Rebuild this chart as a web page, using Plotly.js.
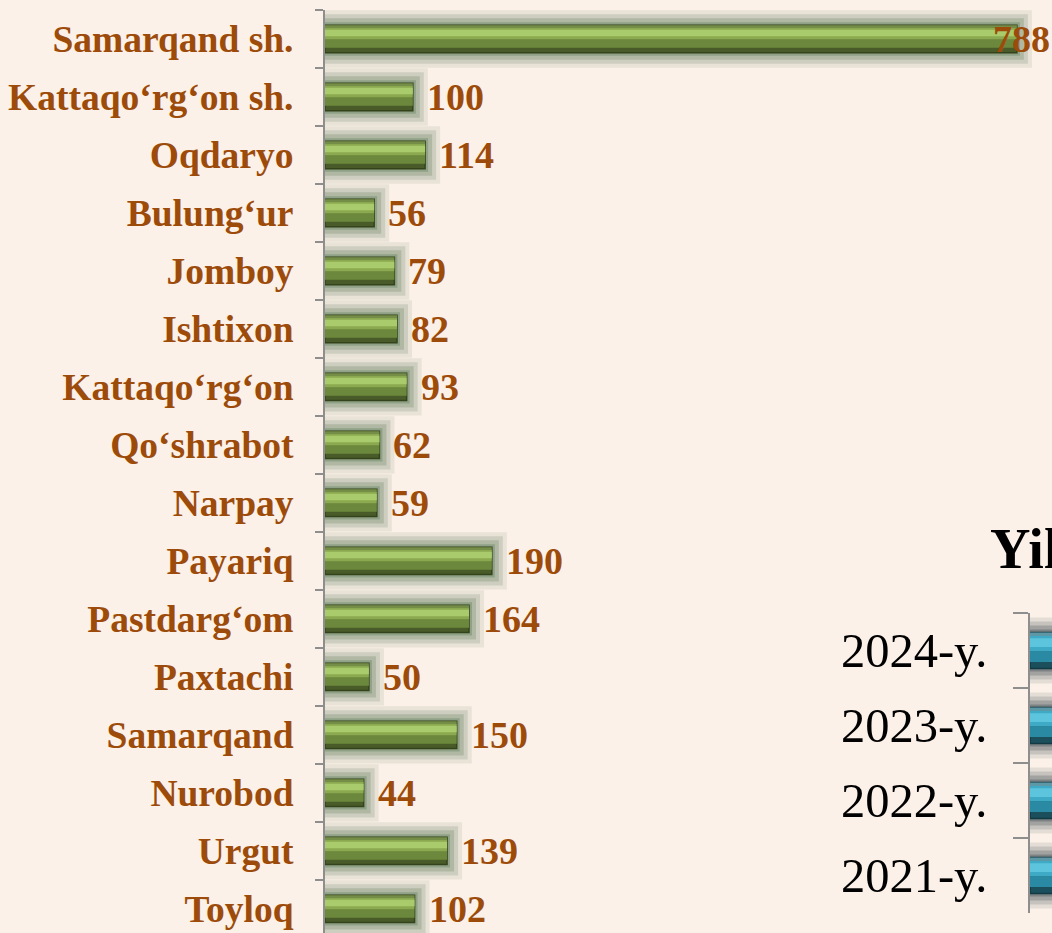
<!DOCTYPE html>
<html>
<head>
<meta charset="utf-8">
<script src="https://cdn.plot.ly/plotly-3.0.1.min.js"></script>
<style>
  html, body { margin: 0; padding: 0; background: #FBF1E8; }
  #chart { width: 1052px; height: 933px; }
</style>
</head>
<body>
<div id="chart"></div>
<script>
// ---- Data ----
const districts = [
  "Samarqand sh.", "Kattaqo‘rg‘on sh.", "Oqdaryo", "Bulung‘ur", "Jomboy",
  "Ishtixon", "Kattaqo‘rg‘on", "Qo‘shrabot", "Narpay", "Payariq",
  "Pastdarg‘om", "Paxtachi", "Samarqand", "Nurobod", "Urgut", "Toyloq"
];
const districtValues = [788, 100, 114, 56, 79, 82, 93, 62, 59, 190, 164, 50, 150, 44, 139, 102];

const years = ["2024-y.", "2023-y.", "2022-y.", "2021-y."];
const yearValues = [2272, 2050, 1850, 1650];
const rightTitle = "Yillar";

// ---- Styling ----
const BG = "#FBF1E8";
const BROWN = "#9D4B0A";
const SERIF = "Liberation Serif, Times New Roman, serif";
const W = 1052, H = 933;
const XMAX_LEFT = 828;

function layers(x, y, xa, ya, w, glowRGB, parts) {
  const t = [];
  const base = {type: "bar", orientation: "h", x: x, y: y, xaxis: xa, yaxis: ya,
                hoverinfo: "skip", showlegend: false, width: w, offset: -w / 2};
  [[30, 0.13], [22, 0.2], [14, 0.3], [6, 0.45]].forEach(function (g) {
    t.push(Object.assign({}, base, {
      marker: {color: "rgba(0,0,0,0)", line: {width: g[0], color: "rgba(" + glowRGB + "," + g[1] + ")"}}
    }));
  });
  parts.forEach(function (p) {
    t.push(Object.assign({}, base, {
      width: w * p.f, offset: -w / 2 + w * p.o,
      marker: {color: p.c, line: {width: p.lw || 0, color: p.lc || p.c}}
    }));
  });
  return t;
}

const greenParts = [
  {f: 1.0, o: 0.0, c: "#4A5B2A", lw: 1.5, lc: "#34431A"},
  {f: 0.12, o: 0.0, c: "#748E48"},
  {f: 0.30, o: 0.52, c: "#6C883D"},
  {f: 0.42, o: 0.1, c: "#8BAA50"},
  {f: 0.24, o: 0.16, c: "#AACB6B"}
];
const blueParts = [
  {f: 1.0, o: 0.0, c: "#1B4F5C", lw: 1.5, lc: "#113A44"},
  {f: 0.12, o: 0.0, c: "#5E98A6"},
  {f: 0.30, o: 0.52, c: "#2B8AA3"},
  {f: 0.42, o: 0.1, c: "#3FAAC5"},
  {f: 0.24, o: 0.16, c: "#5CC4DD"}
];

const traces = []
  .concat(layers(districtValues, districts, "x", "y", 0.47, "105,132,100", greenParts))
  .concat(layers(yearValues, years, "x2", "y2", 0.48, "80,90,95", blueParts));

// value labels
const annotations = districtValues.map(function (v, i) {
  const overflow = v > XMAX_LEFT * 0.9;
  return overflow ? {
    x: 1, xref: "paper", y: districts[i], yref: "y", xanchor: "right", yanchor: "middle",
    text: String(v), showarrow: false, font: {family: SERIF, size: 38, color: BROWN, weight: "bold"}
  } : {
    x: v, xref: "x", y: districts[i], yref: "y", xanchor: "left", yanchor: "middle", xshift: 12,
    text: String(v), showarrow: false, font: {family: SERIF, size: 38, color: BROWN, weight: "bold"}
  };
});
annotations.push({
  x: 988 / W, xref: "paper", y: 1 - 549 / H, yref: "paper", xanchor: "left", yanchor: "middle",
  text: "<b>" + rightTitle + "</b>", showarrow: false,
  font: {family: SERIF, size: 56, color: "#000000"}
});

const layout = {
  width: W, height: H,
  margin: {l: 0, r: 0, t: 0, b: 0},
  paper_bgcolor: BG, plot_bgcolor: "rgba(0,0,0,0)",
  barmode: "overlay",
  showlegend: false,
  xaxis: {domain: [325 / W, 1], range: [0, XMAX_LEFT], showgrid: false, zeroline: false,
          showticklabels: false, showline: false, ticks: "", fixedrange: true},
  yaxis: {domain: [0, 1 - 10 / H], type: "category", categoryorder: "array", categoryarray: districts,
          range: [15.414, -0.5], showgrid: false, zeroline: false,
          showline: true, linecolor: "#8E8E8E", linewidth: 2,
          ticks: "outside", tickson: "boundaries", ticklen: 8, tickwidth: 2, tickcolor: "#8E8E8E",
          ticklabelstandoff: 22,
          tickfont: {family: SERIF, size: 37.5, color: BROWN, weight: "bold"}, fixedrange: true},
  xaxis2: {domain: [1030 / W, 1], range: [0, 100], anchor: "y2", showgrid: false, zeroline: false,
           showticklabels: false, showline: false, ticks: "", fixedrange: true},
  yaxis2: {domain: [1 - 913 / H, 1 - 613 / H], anchor: "x2", type: "category",
           categoryorder: "array", categoryarray: years, range: [3.5, -0.5],
           showgrid: false, zeroline: false,
           showline: true, linecolor: "#8E8E8E", linewidth: 2,
           ticks: "outside", tickson: "boundaries", ticklen: 15, tickwidth: 2, tickcolor: "#8E8E8E",
           ticklabelstandoff: 31,
           tickfont: {family: SERIF, size: 48.5, color: "#000000"}, fixedrange: true},
  annotations: annotations
};

Plotly.newPlot("chart", traces, layout, {displayModeBar: false, staticPlot: true});
</script>
</body>
</html>
